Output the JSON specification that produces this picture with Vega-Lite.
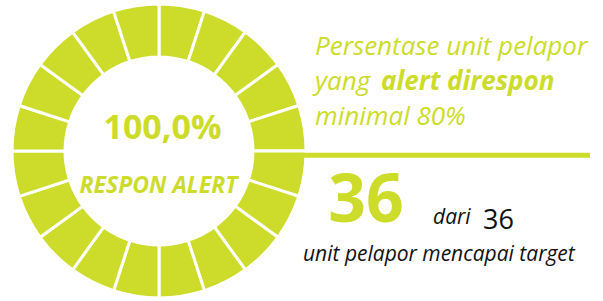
{
  "$schema": "https://vega.github.io/schema/vega-lite/v6.json",
  "width": 603,
  "height": 301,
  "autosize": {"type": "fit", "contains": "padding"},
  "padding": 0,
  "background": "white",
  "config": {"view": {"stroke": null}},
  "datasets": {
    "segments": [
      {"segment": 1, "share": 5}, {"segment": 2, "share": 5}, {"segment": 3, "share": 5}, {"segment": 4, "share": 5},
      {"segment": 5, "share": 5}, {"segment": 6, "share": 5}, {"segment": 7, "share": 5}, {"segment": 8, "share": 5},
      {"segment": 9, "share": 5}, {"segment": 10, "share": 5}, {"segment": 11, "share": 5}, {"segment": 12, "share": 5},
      {"segment": 13, "share": 5}, {"segment": 14, "share": 5}, {"segment": 15, "share": 5}, {"segment": 16, "share": 5},
      {"segment": 17, "share": 5}, {"segment": 18, "share": 5}, {"segment": 19, "share": 5}, {"segment": 20, "share": 5}
    ],
    "summary": [
      {"percent": "100,0%", "achieved": 36, "target": 36}
    ]
  },
  "resolve": {"scale": {"x": "shared", "y": "shared"}},
  "layer": [
    {
      "data": {"name": "segments"},
      "mark": {"type": "arc", "outerRadius": 147, "innerRadius": 94, "stroke": "white", "strokeWidth": 3, "color": "#cddc2a"},
      "encoding": {
        "theta": {"field": "share", "type": "quantitative", "stack": true},
        "order": {"field": "segment", "type": "ordinal"},
        "x": {"datum": 26.37, "type": "quantitative", "scale": {"domain": [0, 100]}, "axis": null},
        "y": {"datum": 51.5, "type": "quantitative", "scale": {"domain": [0, 100], "reverse": true}, "axis": null}
      }
    },
    {
      "data": {"name": "summary"},
      "mark": {"type": "text", "align": "center", "baseline": "alphabetic", "font": "Open Sans", "fontWeight": "bold", "fontSize": 34, "color": "#cddc2a"},
      "encoding": {
        "text": {"field": "percent"},
        "x": {"datum": 26.95, "type": "quantitative"},
        "y": {"datum": 47.5, "type": "quantitative"}
      }
    },
    {
      "data": {"name": "summary"},
      "mark": {"type": "text", "text": "RESPON ALERT", "align": "center", "baseline": "alphabetic", "font": "Open Sans", "fontWeight": "bold", "fontStyle": "italic", "fontSize": 23, "color": "#cddc2a"},
      "encoding": {
        "x": {"datum": 26.29, "type": "quantitative"},
        "y": {"datum": 65.8, "type": "quantitative"}
      }
    },
    {
      "data": {"name": "summary"},
      "mark": {"type": "text", "text": "Persentase unit pelapor", "align": "left", "baseline": "alphabetic", "font": "Open Sans", "fontStyle": "italic", "fontSize": 26, "color": "#cddc2a"},
      "encoding": {
        "x": {"datum": 52.24, "type": "quantitative"},
        "y": {"datum": 18.94, "type": "quantitative"}
      }
    },
    {
      "data": {"name": "summary"},
      "mark": {"type": "text", "text": "yang", "align": "left", "baseline": "alphabetic", "font": "Open Sans", "fontStyle": "italic", "fontSize": 26, "color": "#cddc2a"},
      "encoding": {
        "x": {"datum": 52.24, "type": "quantitative"},
        "y": {"datum": 30.56, "type": "quantitative"}
      }
    },
    {
      "data": {"name": "summary"},
      "mark": {"type": "text", "text": "alert direspon", "align": "left", "baseline": "alphabetic", "font": "Open Sans", "fontStyle": "italic", "fontWeight": "bold", "fontSize": 26, "color": "#cddc2a"},
      "encoding": {
        "x": {"datum": 63.2, "type": "quantitative"},
        "y": {"datum": 30.56, "type": "quantitative"}
      }
    },
    {
      "data": {"name": "summary"},
      "mark": {"type": "text", "text": "minimal 80%", "align": "left", "baseline": "alphabetic", "font": "Open Sans", "fontStyle": "italic", "fontSize": 26, "color": "#cddc2a"},
      "encoding": {
        "x": {"datum": 52.24, "type": "quantitative"},
        "y": {"datum": 42.52, "type": "quantitative"}
      }
    },
    {
      "data": {"name": "summary"},
      "mark": {"type": "rule", "strokeWidth": 5, "color": "#cddc2a"},
      "encoding": {
        "x": {"datum": 50.25, "type": "quantitative"},
        "x2": {"datum": 97.84},
        "y": {"datum": 53.0, "type": "quantitative"}
      }
    },
    {
      "data": {"name": "summary"},
      "mark": {"type": "text", "align": "center", "baseline": "alphabetic", "font": "Open Sans", "fontWeight": "bold", "fontSize": 66, "color": "#cddc2a"},
      "encoding": {
        "text": {"field": "achieved"},
        "x": {"datum": 60.7, "type": "quantitative"},
        "y": {"datum": 75.75, "type": "quantitative"}
      }
    },
    {
      "data": {"name": "summary"},
      "mark": {"type": "text", "text": "dari", "align": "left", "baseline": "alphabetic", "font": "Open Sans", "fontStyle": "italic", "fontSize": 21, "color": "#111111"},
      "encoding": {
        "x": {"datum": 71.81, "type": "quantitative"},
        "y": {"datum": 76.41, "type": "quantitative"}
      }
    },
    {
      "data": {"name": "summary"},
      "mark": {"type": "text", "align": "left", "baseline": "alphabetic", "font": "Open Sans", "fontSize": 27, "color": "#111111"},
      "encoding": {
        "text": {"field": "target"},
        "x": {"datum": 80.1, "type": "quantitative"},
        "y": {"datum": 78.07, "type": "quantitative"}
      }
    },
    {
      "data": {"name": "summary"},
      "mark": {"type": "text", "text": "unit pelapor mencapai target", "align": "left", "baseline": "alphabetic", "font": "Open Sans", "fontStyle": "italic", "fontSize": 21, "color": "#111111"},
      "encoding": {
        "x": {"datum": 50.25, "type": "quantitative"},
        "y": {"datum": 89.04, "type": "quantitative"}
      }
    }
  ]
}
